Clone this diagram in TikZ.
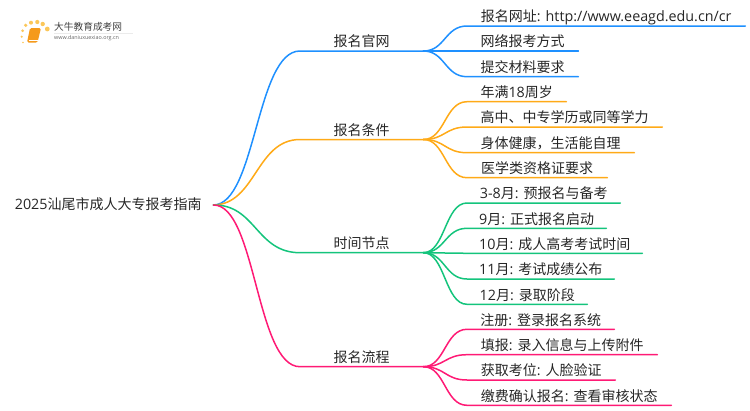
\documentclass[tikz,border=0pt]{standalone}
\usepackage{fontspec}
\setmainfont{Noto Sans CJK SC}
\newfontfamily\latfont{Open Sans}
\newcommand{\lat}[1]{{\latfont\fontsize{14.3}{16}\selectfont #1}}
\usepackage{xcolor}
\usepackage{tikz}
\definecolor{siteblue}{HTML}{1E90FF}
\definecolor{condorange}{HTML}{FFAA17}
\definecolor{timegreen}{HTML}{14C47C}
\definecolor{procpink}{HTML}{FF1A75}
\definecolor{bookorange}{HTML}{F59A1B}
\definecolor{dotyellow}{HTML}{FBC75A}

\begin{document}
\begin{tikzpicture}[x=1pt,y=-1pt,
    label/.style={anchor=south west, inner xsep=0pt, inner ysep=2pt, text height=11pt, text depth=2pt, text=black!85, font=\fontsize{14}{16}\selectfont},
    branch/.style={line width=1.5pt, line cap=round},
    logodot/.style={fill=dotyellow, draw=none}]
    \useasboundingbox (0,0) rectangle (750,410);

    \fill[logodot] (23,42.5) circle (0.9);
    \fill[logodot] (21.7,36.7) circle (1.2);
    \fill[logodot] (22.7,30.7) circle (1.5);
    \fill[logodot] (25.7,25.3) circle (1.8);
    \fill[logodot] (31,22.7) circle (2);
    \fill[logodot] (37.3,22) circle (2.1);
    \fill[logodot] (42.7,24) circle (2.2);
    \fill[logodot] (47.3,29) circle (2.4);
    \fill[bookorange, rounded corners=1.5pt] (30,28) -- (41,28) -- (37.5,42.5) -- (27,42.5) -- cycle;
    \draw[white, line width=0.5pt] (28.5,40) -- (37.7,40);
    \draw[black!8, line width=0.5pt] (54,33) -- (133,33);
    \node (logotitle) [anchor=west, inner sep=0pt, text=black!75, font=\fontsize{9.7}{11}\selectfont] at (54,27) {大牛教育成考网};
    \node (logourl) [anchor=west, inner sep=0pt, text=black!60, font=\latfont\fontsize{5.4}{7}\selectfont] at (54,38.5) {www.daniuxuexiao.org.cn};

    \node (root) [label, anchor=west, minimum width=210pt] at (3,205) {\lat{2025}汕尾市成人大专报考指南};

    \node (site) [label, minimum width=123pt] at (300,51) {报名官网};
    \node (cond) [label, minimum width=123pt] at (300,139.5) {报名条件};
    \node (time) [label, minimum width=123pt] at (300,252.7) {时间节点};
    \node (proc) [label, minimum width=123pt] at (300,366.7) {报名流程};

    \node (site1) [label, minimum width=278pt] at (467,26) {报名网址\lat{: http://www.eeagd.edu.cn/cr}};
    \node (site2) [label, minimum width=111pt] at (467,51) {网络报考方式};
    \node (site3) [label, minimum width=111pt] at (467,76.7) {提交材料要求};

    \node (cond1) [label, minimum width=99pt] at (467,101.7) {年满\lat{18}周岁};
    \node (cond2) [label, minimum width=195pt] at (467,127) {高中、中专学历或同等学力};
    \node (cond3) [label, minimum width=167pt] at (467,152.7) {身体健康，生活能自理};
    \node (cond4) [label, minimum width=140pt] at (467,177.7) {医学类资格证要求};

    \node (time1) [label, minimum width=153pt] at (467,203) {\lat{3-8}月\lat{: }预报名与备考};
    \node (time2) [label, minimum width=139pt] at (467,228.3) {\lat{9}月\lat{: }正式报名启动};
    \node (time3) [label, minimum width=175pt] at (467,253.3) {\lat{10}月\lat{: }成人高考考试时间};
    \node (time4) [label, minimum width=147pt] at (467,279) {\lat{11}月\lat{: }考试成绩公布};
    \node (time5) [label, minimum width=120pt] at (467,304.3) {\lat{12}月\lat{: }录取阶段};

    \node (proc1) [label, minimum width=147pt] at (467,329.3) {注册\lat{: }登录报名系统};
    \node (proc2) [label, minimum width=190pt] at (467,354.7) {填报\lat{: }录入信息与上传附件};
    \node (proc3) [label, minimum width=148pt] at (467,380) {获取考位\lat{: }人脸验证};
    \node (proc4) [label, minimum width=204pt] at (467,405.3) {缴费确认报名\lat{: }查看审核状态};

    \draw[branch, siteblue] (root.east) .. controls (256,204.5) and (256,51) .. (site.south west) -- (site.south east);
    \draw[branch, condorange] (root.east) .. controls (256,204.5) and (256,139.5) .. (cond.south west) -- (cond.south east);
    \draw[branch, timegreen] (root.east) .. controls (256,204.5) and (256,252.7) .. (time.south west) -- (time.south east);
    \draw[branch, procpink] (root.east) .. controls (256,204.5) and (256,366.7) .. (proc.south west) -- (proc.south east);

    \draw[branch, siteblue] (site.south east) .. controls (445,51) and (445,26) .. (site1.south west) -- (site1.south east);
    \draw[branch, siteblue] (site.south east) -- (site2.south west) -- (site2.south east);
    \draw[branch, siteblue] (site.south east) .. controls (445,51) and (445,76.7) .. (site3.south west) -- (site3.south east);

    \draw[branch, condorange] (cond.south east) .. controls (445,139.5) and (445,101.7) .. (cond1.south west) -- (cond1.south east);
    \draw[branch, condorange] (cond.south east) .. controls (445,139.5) and (445,127) .. (cond2.south west) -- (cond2.south east);
    \draw[branch, condorange] (cond.south east) .. controls (445,139.5) and (445,152.7) .. (cond3.south west) -- (cond3.south east);
    \draw[branch, condorange] (cond.south east) .. controls (445,139.5) and (445,177.7) .. (cond4.south west) -- (cond4.south east);

    \draw[branch, timegreen] (time.south east) .. controls (445,252.7) and (445,203) .. (time1.south west) -- (time1.south east);
    \draw[branch, timegreen] (time.south east) .. controls (445,252.7) and (445,228.3) .. (time2.south west) -- (time2.south east);
    \draw[branch, timegreen] (time.south east) -- (time3.south west) -- (time3.south east);
    \draw[branch, timegreen] (time.south east) .. controls (445,252.7) and (445,279) .. (time4.south west) -- (time4.south east);
    \draw[branch, timegreen] (time.south east) .. controls (445,252.7) and (445,304.3) .. (time5.south west) -- (time5.south east);

    \draw[branch, procpink] (proc.south east) .. controls (445,366.7) and (445,329.3) .. (proc1.south west) -- (proc1.south east);
    \draw[branch, procpink] (proc.south east) .. controls (445,366.7) and (445,354.7) .. (proc2.south west) -- (proc2.south east);
    \draw[branch, procpink] (proc.south east) .. controls (445,366.7) and (445,380) .. (proc3.south west) -- (proc3.south east);
    \draw[branch, procpink] (proc.south east) .. controls (445,366.7) and (445,405.3) .. (proc4.south west) -- (proc4.south east);
\end{tikzpicture}
\end{document}
